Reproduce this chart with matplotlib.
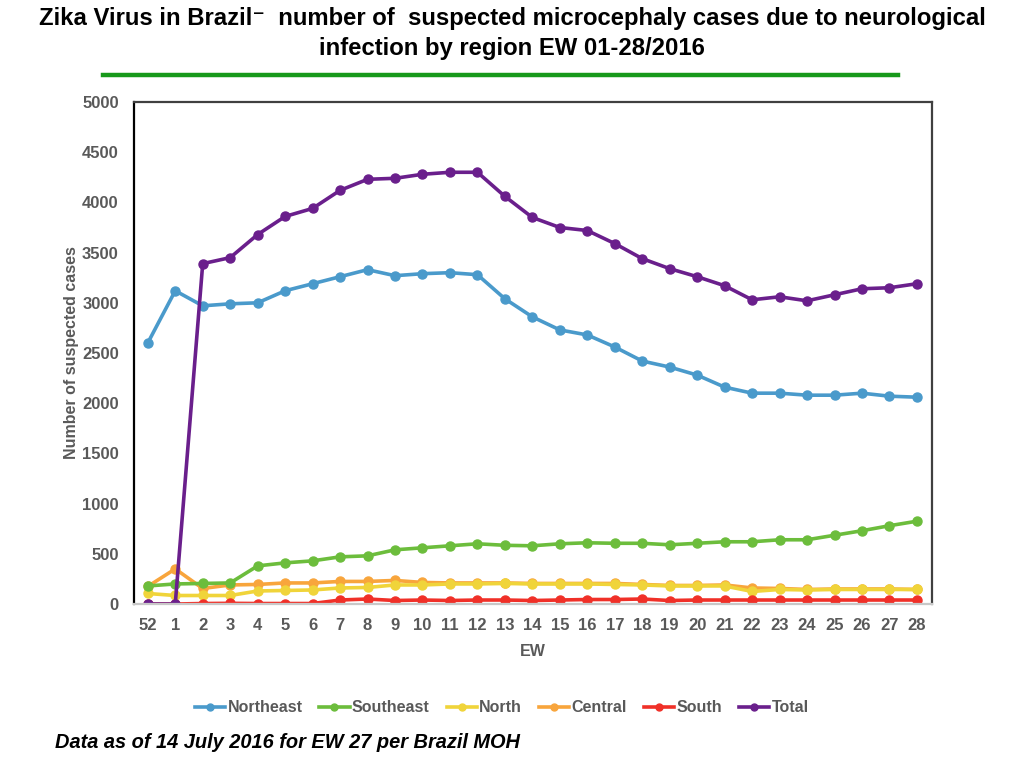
import matplotlib.pyplot as plt
from matplotlib.lines import Line2D

# epidemiological weeks (52 of 2015, then 1-28 of 2016)
weeks = ["52"] + [str(w) for w in range(1, 29)]

northeast = [2600, 3120, 2970, 2990, 3000, 3120, 3190, 3260, 3330, 3270, 3290, 3300, 3280,
             3040, 2860, 2730, 2680, 2560, 2420, 2360, 2280, 2160, 2100, 2100, 2080, 2080,
             2100, 2070, 2060]
southeast = [180, 200, 205, 210, 380, 410, 430, 470, 480, 540, 560, 580, 600,
             585, 580, 600, 610, 605, 605, 590, 605, 620, 620, 640, 640, 685,
             730, 780, 825]
north = [105, 85, 85, 85, 130, 135, 140, 160, 165, 190, 190, 200, 200,
         205, 200, 200, 200, 195, 190, 180, 180, 180, 125, 145, 140, 145,
         145, 145, 145]
central = [175, 350, 155, 190, 195, 210, 210, 225, 225, 235, 215, 210, 210,
           210, 205, 205, 205, 205, 195, 185, 185, 190, 160, 155, 145, 150,
           150, 150, 145]
south = [0, 0, 5, 7, 5, 5, 5, 40, 50, 35, 40, 35, 40,
         40, 35, 40, 45, 45, 50, 35, 40, 40, 40, 40, 40, 40,
         40, 40, 40]
total = [0, 0, 3390, 3450, 3680, 3860, 3940, 4120, 4230, 4240, 4280, 4300, 4300,
         4060, 3850, 3750, 3720, 3590, 3440, 3340, 3260, 3170, 3030, 3060, 3020, 3080,
         3140, 3150, 3190]

series = [
    ("Northeast", northeast, "#4a9acb"),
    ("Southeast", southeast, "#6cbd3c"),
    ("North", north, "#f0d43a"),
    ("Central", central, "#f8a53c"),
    ("South", south, "#f03028"),
    ("Total", total, "#6a1f8c"),
]

plt.rcParams["font.family"] = ["Liberation Sans", "DejaVu Sans"]
grey = "#595959"

fig = plt.figure(figsize=(10.24, 7.68), dpi=100)
ax = fig.add_axes([0.1309, 0.2135, 0.7793, 0.6537])

x = list(range(len(weeks)))
# draw in order so Total ends on top
draw_order = ["Central", "North", "Southeast", "South", "Northeast", "Total"]
lookup = {name: (vals, col) for name, vals, col in series}
for name in draw_order:
    vals, col = lookup[name]
    ax.plot(x, vals, color=col, lw=2.6, marker="o", markersize=6.5, solid_capstyle="round")

ax.set_xlim(-0.5, 28.55)
ax.set_ylim(0, 5000)
ax.set_yticks(range(0, 5001, 500))
ax.set_xticks(x)
ax.set_xticklabels(weeks)
ax.tick_params(length=0, labelsize=12, labelcolor=grey)
ax.tick_params(axis="y", pad=11)
ax.tick_params(axis="x", pad=10)
for lab in ax.get_xticklabels() + ax.get_yticklabels():
    lab.set_fontweight("bold")

ax.spines["left"].set_color("black")
ax.spines["top"].set_color("#404040")
ax.spines["right"].set_color("#404040")
ax.spines["bottom"].set_color("#c8c8c8")
for s in ax.spines.values():
    s.set_linewidth(1.6)

ax.set_ylabel("Number of suspected cases", fontsize=11.5, fontweight="bold", color=grey, labelpad=2)
ax.set_xlabel("EW", fontsize=11.5, fontweight="bold", color=grey, labelpad=8)

handles = [Line2D([], [], color=c, lw=2.6, marker="o", markersize=5) for _, _, c in series]
leg = fig.legend(handles, [n for n, _, _ in series], loc="center", bbox_to_anchor=(0.49, 1 - 708 / 768),
                 ncol=6, frameon=False, fontsize=11.5, handlelength=1.9, handletextpad=0.15,
                 columnspacing=1.05)
for t in leg.get_texts():
    t.set_color(grey)
    t.set_fontweight("bold")

fig.text(0.5, 1 - 19 / 768, "Zika Virus in Brazil\u207b  number of  suspected microcephaly cases due to neurological",
         ha="center", va="center", fontsize=17.2, fontweight="bold")
fig.text(0.5, 1 - 49 / 768, "infection by region EW 01-28/2016",
         ha="center", va="center", fontsize=17.2, fontweight="bold")
fig.add_artist(Line2D([103 / 1024, 898 / 1024], [1 - 75 / 768, 1 - 75 / 768],
                      color="#17991a", lw=3.2, transform=fig.transFigure))

fig.text(55 / 1024, 1 - 743 / 768, "Data as of 14 July 2016 for EW 27 per Brazil MOH",
         ha="left", va="center", fontsize=14.4, fontweight="bold", style="italic")

fig.savefig("out.png", dpi=100)
